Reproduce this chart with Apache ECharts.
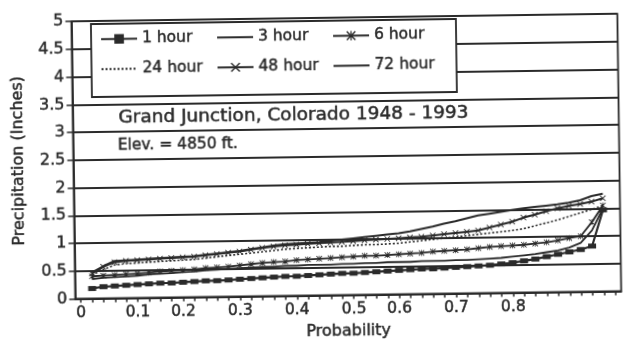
<!DOCTYPE html>
<html>
<head>
<meta charset="utf-8">
<script src="https://cdn.jsdelivr.net/npm/echarts@6/dist/echarts.min.js"></script>
<style>
  html, body { margin: 0; padding: 0; background: #fff; overflow: hidden; }
  #chart { width: 624px; height: 345px; transform: rotate(-0.8deg); transform-origin: 312px 172.5px; }
</style>
</head>
<body>
<div id="chart"></div>
<script>
// Probability axis: one slot per ranked year, labelled where the rank rounds to a tenth
const tickLabels = ['0', '', '', '', '', '0.1', '', '', '', '0.2', '', '', '', '', '0.3', '', '', '', '', '0.4',
  '', '', '', '', '0.5', '', '', '', '0.6', '', '', '', '', '0.7', '', '', '', '', '0.8',
  '', '', '', '', '', '', '', '', ''];

// Annual maximum precipitation (inches), ranked, 1948 - 1993
const oneHour = [0.18, 0.21, 0.22, 0.23, 0.24, 0.25, 0.26, 0.26, 0.27, 0.28, 0.29, 0.29, 0.30, 0.31, 0.32, 0.33,
  0.34, 0.35, 0.35, 0.36, 0.37, 0.38, 0.39, 0.39, 0.40, 0.41, 0.42, 0.43, 0.44, 0.45, 0.45, 0.46, 0.47, 0.48,
  0.49, 0.50, 0.52, 0.54, 0.57, 0.60, 0.64, 0.68, 0.72, 0.76, 0.82, 1.47];
const threeHour = [0.35, 0.37, 0.38, 0.39, 0.40, 0.42, 0.43, 0.44, 0.45, 0.46, 0.48, 0.49, 0.50, 0.51, 0.52, 0.53,
  0.53, 0.54, 0.54, 0.55, 0.55, 0.55, 0.56, 0.56, 0.57, 0.57, 0.58, 0.58, 0.58, 0.59, 0.59, 0.59, 0.60, 0.60,
  0.61, 0.62, 0.63, 0.65, 0.67, 0.69, 0.72, 0.75, 0.80, 0.88, 1.10, 1.50];
const sixHour = [0.40, 0.41, 0.42, 0.43, 0.44, 0.45, 0.47, 0.48, 0.49, 0.50, 0.52, 0.53, 0.54, 0.56, 0.58, 0.60,
  0.61, 0.62, 0.64, 0.65, 0.66, 0.67, 0.68, 0.69, 0.70, 0.70, 0.71, 0.72, 0.73, 0.74, 0.76, 0.77, 0.78, 0.79,
  0.81, 0.83, 0.84, 0.85, 0.86, 0.88, 0.90, 0.93, 0.97, 1.00, 1.25, 1.55];
const day1 = [0.42, 0.52, 0.60, 0.62, 0.63, 0.64, 0.65, 0.66, 0.67, 0.68, 0.70, 0.72, 0.74, 0.76, 0.78, 0.80,
  0.82, 0.84, 0.85, 0.86, 0.87, 0.88, 0.88, 0.89, 0.90, 0.90, 0.91, 0.92, 0.94, 0.96, 0.98, 1.00, 1.02, 1.04,
  1.06, 1.08, 1.10, 1.12, 1.15, 1.20, 1.25, 1.30, 1.36, 1.42, 1.48, 1.55];
const day2 = [0.45, 0.57, 0.65, 0.67, 0.68, 0.69, 0.70, 0.71, 0.72, 0.73, 0.75, 0.77, 0.79, 0.81, 0.84, 0.87,
  0.89, 0.91, 0.92, 0.93, 0.94, 0.95, 0.96, 0.97, 0.98, 0.99, 1.00, 1.01, 1.02, 1.03, 1.05, 1.07, 1.09, 1.11,
  1.13, 1.18, 1.23, 1.28, 1.35, 1.40, 1.46, 1.51, 1.55, 1.58, 1.62, 1.68];
const day3 = [0.47, 0.58, 0.67, 0.68, 0.69, 0.70, 0.71, 0.72, 0.73, 0.74, 0.76, 0.78, 0.80, 0.82, 0.85, 0.88,
  0.91, 0.93, 0.94, 0.95, 0.96, 0.98, 1.00, 1.02, 1.04, 1.06, 1.08, 1.10, 1.13, 1.17, 1.21, 1.26, 1.30, 1.35,
  1.40, 1.43, 1.46, 1.49, 1.52, 1.54, 1.56, 1.58, 1.61, 1.65, 1.72, 1.76];

const seriesNames = ['1 hour', '3 hour', '6 hour', '24 hour', '48 hour', '72 hour'];

// rank slots on the category axis (unique names, text comes from tickLabels)
const ranks = tickLabels.map((_, i) => 'r' + i);
// tick marks sit at the middle of each rank slot
const slotCentres = ranks.map((_, i) => i + 0.5);

const INK = '#2a2a2a';
const FONT = 'DejaVu Sans';
const crossMark = 'path://M0,1L1,0L5,4L9,0L10,1L6,5L10,9L9,10L5,6L1,10L0,9L4,5Z';
const starMark = 'path://M0,1L1,0L5,4L9,0L10,1L6,5L10,9L9,10L5,6L1,10L0,9L4,5Z M4.4,0H5.6V10H4.4Z';
const markedSeries = ['1 hour', '6 hour', '48 hour'];

// heavier glyph strokes for all text
const ink = (size) => ({
  fontSize: size, fontFamily: FONT, color: INK,
  textBorderColor: INK, textBorderWidth: 0.45
});

// slot 0 and the last slot carry no observation
const pad = arr => [null, ...arr, null];

function lineSeries(name, data, extra) {
  return Object.assign({
    name: name,
    type: 'line',
    xAxisIndex: 0,
    data: pad(data),
    symbol: 'circle',
    showSymbol: false,
    animation: false,
    color: INK,
    lineStyle: { color: INK, width: 1.8 },
    itemStyle: { color: INK }
  }, extra);
}

const legendSpots = [[102, 28], [218, 28], [334, 28], [102, 58], [218, 58], [334, 58]];

const chart = echarts.init(document.getElementById('chart'), null, { renderer: 'canvas' });
chart.setOption({
  backgroundColor: '#fff',
  animation: false,
  textStyle: { fontFamily: FONT, color: INK },
  grid: {
    left: 73.5, right: 4.5, top: 18.2, bottom: 45.2,
    show: true, borderColor: INK, borderWidth: 1.8, backgroundColor: 'transparent'
  },
  xAxis: [
    {
      type: 'category',
      data: ranks,
      boundaryGap: true,
      axisLine: { show: true, onZero: false, lineStyle: { color: INK, width: 1.8 } },
      axisTick: { show: false },
      axisLabel: Object.assign({ interval: 0, margin: 7, formatter: (v, i) => tickLabels[i] }, ink(15.5)),
      splitLine: { show: false },
      name: 'Probability',
      nameLocation: 'middle',
      nameGap: 25,
      nameTextStyle: ink(16)
    },
    {
      // tick marks only, one per rank slot
      type: 'value',
      min: 0, max: ranks.length,
      position: 'bottom',
      axisLine: { show: false, onZero: false },
      axisLabel: { show: false },
      splitLine: { show: false },
      axisTick: { show: true, length: 4, customValues: slotCentres, lineStyle: { color: INK, width: 1.5 } }
    }
  ],
  yAxis: {
    type: 'value',
    min: 0, max: 5, interval: 0.5,
    axisLine: { show: true, lineStyle: { color: INK, width: 1.8 } },
    axisTick: { show: true, length: 6, lineStyle: { color: INK, width: 1.5 } },
    axisLabel: Object.assign({ margin: 8 }, ink(16)),
    splitLine: { lineStyle: { color: INK, width: 1.8 } },
    name: 'Precipitation (Inches)',
    nameLocation: 'middle',
    nameGap: 47,
    nameTextStyle: ink(16)
  },
  legend: seriesNames.map((n, i) => {
    const marked = markedSeries.indexOf(n) >= 0;
    return {
      data: [n],
      left: legendSpots[i][0],
      top: legendSpots[i][1],
      padding: 0,
      itemWidth: 36,
      itemHeight: 12,
      selectedMode: false,
      z: 6,
      itemStyle: marked ? {} : { color: 'transparent', borderColor: 'transparent', borderWidth: 0 },
      textStyle: ink(15.5)
    };
  }),
  graphic: [
    {
      type: 'rect', z: 5,
      shape: { x: 93, y: 21, width: 365, height: 73 },
      style: { fill: '#fff', stroke: INK, lineWidth: 1.8 }
    },
    {
      type: 'text', z: 5, left: 119, top: 105,
      style: { text: 'Grand Junction, Colorado 1948 - 1993', font: '18.5px "DejaVu Sans"', fill: INK, stroke: INK, lineWidth: 0.5 }
    },
    {
      type: 'text', z: 5, left: 118, top: 135,
      style: { text: 'Elev. = 4850 ft.', font: '15.5px "DejaVu Sans"', fill: INK, stroke: INK, lineWidth: 0.45 }
    }
  ],
  series: [
    lineSeries('1 hour', oneHour, {
      symbol: 'rect', showSymbol: true, showAllSymbol: true, symbolSize: [8, 5],
      lineStyle: { color: INK, width: 2.2 }
    }),
    lineSeries('3 hour', threeHour, {}),
    lineSeries('6 hour', sixHour, {
      symbol: starMark, showSymbol: true, showAllSymbol: true, symbolSize: 6
    }),
    lineSeries('24 hour', day1, {
      lineStyle: { color: INK, width: 1.6, type: [2, 2] }
    }),
    lineSeries('48 hour', day2, {
      symbol: crossMark, showSymbol: true, showAllSymbol: true, symbolSize: 6,
      lineStyle: { color: INK, width: 2 }
    }),
    lineSeries('72 hour', day3, { lineStyle: { color: INK, width: 2 } })
  ]
});
</script>
</body>
</html>
